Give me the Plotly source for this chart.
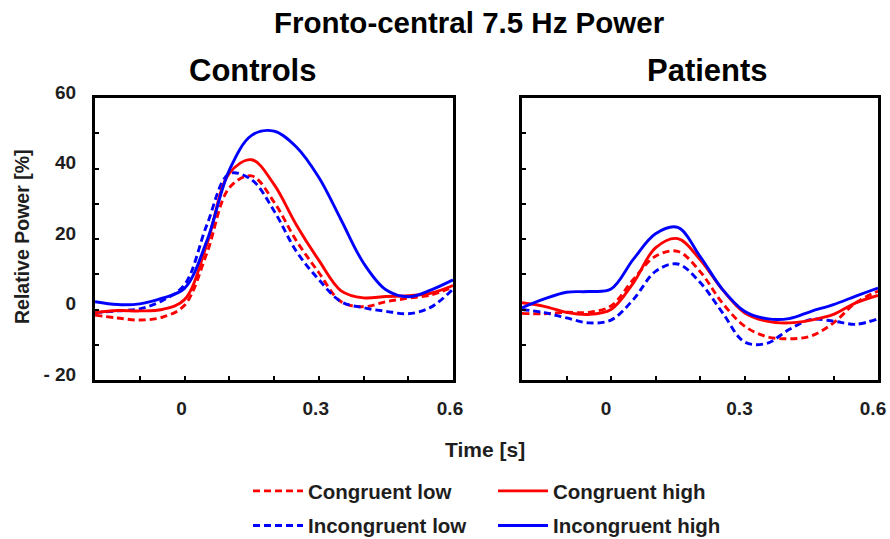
import plotly.graph_objects as go

# Time axis (s), sampled every 50 ms
time_s = [-0.2, -0.15, -0.1, -0.05, 0.0, 0.05, 0.1, 0.15, 0.2, 0.25, 0.3,
          0.35, 0.4, 0.45, 0.5, 0.55, 0.6]

# Relative power [%] - Controls
ctrl_cong_low = [-1.6, -2.4, -3.0, -2.2, 1.2, 16.0, 34.5, 37.9, 30.5, 19.5,
                 10.5, 2.2, 0.8, 2.2, 3.2, 4.1, 6.4]
ctrl_cong_high = [-0.9, -0.3, -0.4, 0.0, 2.8, 18.5, 38.6, 42.5, 35.5, 24.0,
                  14.0, 5.3, 3.3, 3.7, 3.9, 4.6, 6.8]
ctrl_incong_low = [-0.9, -0.4, 0.2, 2.5, 7.0, 24.0, 38.5, 36.8, 28.0, 16.5,
                   8.5, 2.2, 0.5, -0.5, -1.2, 0.6, 5.8]
ctrl_incong_high = [2.2, 1.4, 1.6, 3.2, 6.0, 19.5, 39.5, 49.4, 50.6, 46.1,
                    37.5, 25.4, 13.2, 5.6, 3.6, 5.5, 8.4]

# Relative power [%] - Patients
pat_cong_low = [-1.1, -1.2, -0.8, -0.8, 1.0, 8.5, 15.1, 16.5, 10.8, 1.9,
                -4.7, -7.7, -8.3, -7.5, -3.8, 1.9, 5.2]
pat_cong_high = [1.9, 0.9, -0.8, -1.4, 0.0, 7.5, 17.5, 20.1, 14.2, 5.7,
                 -0.9, -3.3, -3.8, -3.0, -1.4, 1.9, 4.0]
pat_incong_low = [0.0, -0.9, -2.4, -3.8, -3.0, 2.8, 10.8, 12.9, 7.7, -0.8,
                  -9.2, -9.6, -5.7, -2.8, -3.3, -4.2, -2.6]
pat_incong_high = [0.5, 3.0, 4.9, 5.1, 5.8, 14.2, 21.5, 23.3, 15.1, 5.8,
                   -0.5, -2.6, -2.6, -0.5, 1.4, 3.8, 6.1]

# Axis ticks
x_tickvals = [-0.2, -0.1, 0.0, 0.1, 0.2, 0.3, 0.4, 0.5, 0.6]
x_ticktext = ["", "", "0", "", "", "0.3", "", "", "0.6"]
y_tickvals = [-20, -10, 0, 10, 20, 30, 40, 50, 60]
y_ticktext = ["- 20", "", "0", "", "20", "", "40", "", "60"]

RED = "#ff0000"
BLUE = "#0000ff"
FONT = "Liberation Sans, Arial, sans-serif"
TXT = "#1e1e1e"
DASH = "7px,4px"

conditions = [
    ("Congruent low", RED, DASH, "legend", ctrl_cong_low, pat_cong_low),
    ("Incongruent low", BLUE, DASH, "legend", ctrl_incong_low, pat_incong_low),
    ("Congruent high", RED, "solid", "legend2", ctrl_cong_high, pat_cong_high),
    ("Incongruent high", BLUE, "solid", "legend2", ctrl_incong_high, pat_incong_high),
]

fig = go.Figure()
for name, color, dash, leg, ctrl, pat in conditions:
    style = dict(color=color, width=2.9, dash=dash, shape="spline", smoothing=1.0)
    fig.add_trace(go.Scatter(
        x=time_s, y=ctrl, name=name, mode="lines", legend=leg, legendgroup=name,
        line=style, xaxis="x", yaxis="y", showlegend=True))
    fig.add_trace(go.Scatter(
        x=time_s, y=pat, name=name, mode="lines", legend=leg, legendgroup=name,
        line=style, xaxis="x2", yaxis="y2", showlegend=False))

axis_common = dict(
    showline=True, linecolor="black", linewidth=3, mirror=True,
    ticks="inside", ticklen=4, tickwidth=2, tickcolor="black",
    showgrid=False, zeroline=False, automargin=False,
    ticklabeloverflow="allow",
    tickfont=dict(family=FONT, size=19, color=TXT, weight="bold"),
)

legend_common = dict(
    y=1 - 471 / 539, xanchor="left", yanchor="top", orientation="v",
    bgcolor="rgba(0,0,0,0)", itemwidth=50, tracegroupgap=5,
    font=dict(family=FONT, size=20.5, color=TXT, weight="bold"),
)

fig.update_layout(
    width=890, height=539,
    margin=dict(l=0, r=0, t=0, b=0, autoexpand=False),
    paper_bgcolor="white", plot_bgcolor="white",
    xaxis=dict(domain=[95 / 890, 453 / 890], range=[-0.2, 0.6],
               tickmode="array", tickvals=x_tickvals, ticktext=x_ticktext,
               ticklabelstandoff=9, ticklabelshift=-3, anchor="y", **axis_common),
    xaxis2=dict(domain=[522 / 890, 878 / 890], range=[-0.2, 0.6],
                tickmode="array", tickvals=x_tickvals, ticktext=x_ticktext,
                ticklabelstandoff=9, ticklabelshift=-5, anchor="y2", **axis_common),
    yaxis=dict(domain=[1 - 380 / 539, 1 - 98 / 539], range=[-20, 60],
               tickmode="array", tickvals=y_tickvals, ticktext=y_ticktext,
               ticklabelstandoff=12, ticklabelshift=-6, anchor="x", **axis_common),
    yaxis2=dict(domain=[1 - 380 / 539, 1 - 98 / 539], range=[-20, 60],
                tickmode="array", tickvals=y_tickvals, showticklabels=False,
                anchor="x2", **axis_common),
    legend=dict(x=248 / 890, **legend_common),
    legend2=dict(x=493 / 890, **legend_common),
    showlegend=True,
)

annotations = [
    dict(text="Fronto-central 7.5 Hz Power", x=470 / 890, y=1 - 22 / 539,
         font=dict(size=29.5, color="black")),
    dict(text="Controls", x=252 / 890, y=1 - 70 / 539,
         font=dict(size=31, color="black")),
    dict(text="Patients", x=707 / 890, y=1 - 70 / 539,
         font=dict(size=31, color="black")),
    dict(text="Relative Power [%]", x=22 / 890, y=1 - 237 / 539, textangle=-90,
         font=dict(size=19.5, color=TXT)),
    dict(text="Time [s]", x=485 / 890, y=1 - 449 / 539,
         font=dict(size=21, color=TXT)),
]
for a in annotations:
    a["font"].update(family=FONT, weight="bold")
    fig.add_annotation(xref="paper", yref="paper", showarrow=False,
                       xanchor="center", yanchor="middle", **a)

fig.write_html("out.html")
